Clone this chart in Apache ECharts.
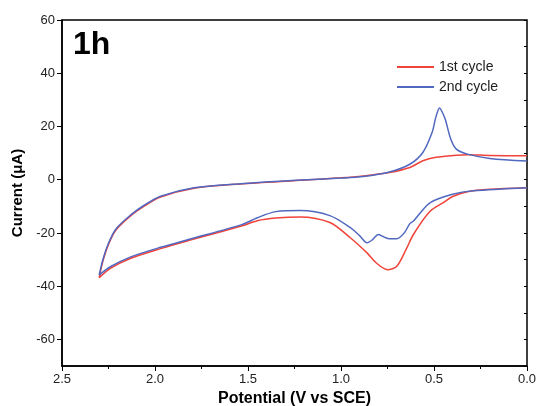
<!DOCTYPE html>
<html>
<head>
<meta charset="utf-8">
<script src="https://cdn.jsdelivr.net/npm/echarts@6/dist/echarts.min.js"></script>
<style>
  html, body { margin: 0; padding: 0; background: #fff; }
  #chart { width: 536px; height: 406px; }
</style>
</head>
<body>
<div id="chart"></div>
<script>
// potential (V vs SCE), current (uA), in scan order: 0 -> 2.3 -> 0
var cycle1 = [
  [0.00, 9.0], [0.20, 9.1], [0.32, 9.4], [0.38, 9.2], [0.49, 8.4], [0.56, 7.1],
  [0.63, 4.6], [0.74, 2.7], [0.88, 1.4], [1.00, 0.7], [1.24, -0.3], [1.54, -1.6],
  [1.79, -3.2], [1.97, -6.5], [2.06, -10.0], [2.13, -13.5], [2.21, -18.9],
  [2.25, -24.3], [2.28, -30.6], [2.30, -36.8],
  [2.24, -33.3], [2.13, -29.5], [1.97, -25.9], [1.81, -22.7], [1.53, -17.3],
  [1.45, -15.4], [1.35, -14.4], [1.22, -14.0],
  [1.06, -16.1], [0.95, -21.8], [0.86, -27.5], [0.81, -31.3], [0.75, -33.8],
  [0.70, -32.5], [0.65, -26.2], [0.61, -20.5], [0.52, -11.8], [0.45, -8.6],
  [0.40, -6.3], [0.32, -4.5], [0.20, -3.6], [0.00, -3.0]
];
var cycle2 = [
  [0.00, 7.0], [0.20, 8.0], [0.32, 9.6], [0.38, 11.5], [0.41, 15.3], [0.44, 22.8],
  [0.46, 26.0], [0.47, 26.9], [0.49, 23.5], [0.51, 17.8], [0.56, 10.2], [0.63, 5.8],
  [0.74, 2.9], [0.88, 1.2], [1.00, 0.6], [1.24, -0.2], [1.54, -1.5],
  [1.79, -3.0], [1.97, -6.2], [2.06, -9.7], [2.13, -13.2], [2.21, -18.5],
  [2.25, -23.9], [2.28, -30.0], [2.30, -35.8],
  [2.24, -32.7], [2.13, -29.0], [1.97, -25.4], [1.81, -22.3], [1.53, -16.8],
  [1.45, -14.3], [1.35, -12.0], [1.22, -11.6],
  [1.06, -13.5], [0.95, -18.0], [0.90, -21.0], [0.86, -23.7], [0.83, -22.5],
  [0.80, -20.6], [0.77, -21.5], [0.74, -22.2], [0.70, -22.2], [0.66, -20.0],
  [0.63, -16.5], [0.61, -15.5], [0.58, -13.0], [0.52, -8.6], [0.40, -5.5],
  [0.29, -4.2], [0.00, -3.0]
];
var seriesNames = ['1st cycle', '2nd cycle'];
var seriesColors = ['#f0433a', '#5068c0'];
var yTicks = [-60, -40, -20, 0, 20, 40, 60];

var myChart = echarts.init(document.getElementById('chart'));
var font = 'Liberation Sans, Arial, sans-serif';
var option = {
  animation: false,
  title: {
    text: '1h',
    left: 68,
    top: 24,
    textStyle: { fontSize: 32, fontWeight: 'bold', color: '#000', fontFamily: font }
  },
  legend: {
    orient: 'vertical',
    left: 391,
    top: 55,
    itemWidth: 37,
    itemHeight: 14,
    itemGap: 6,
    data: seriesNames,
    itemStyle: { color: 'transparent', borderWidth: 0 },
    textStyle: { fontSize: 14, color: '#222', fontFamily: font }
  },
  grid: {
    left: 62, right: 9, top: 20, bottom: 40,
    outerBoundsMode: 'none',
    show: true, borderColor: '#000', borderWidth: 1.5
  },
  xAxis: {
    type: 'value',
    inverse: true,
    min: 0, max: 2.5, interval: 0.5,
    name: 'Potential (V vs SCE)',
    nameLocation: 'middle',
    nameGap: 24,
    nameTextStyle: { fontSize: 16, fontWeight: 'bold', color: '#000', fontFamily: font },
    axisLine: { show: true, onZero: false, lineStyle: { color: '#000', width: 1.5 } },
    axisTick: { show: true, inside: false, length: 5, lineStyle: { color: '#000' } },
    minorTick: { show: true, splitNumber: 2, length: 3, lineStyle: { color: '#000' } },
    splitLine: { show: false },
    axisLabel: {
      margin: 7, fontSize: 13, color: '#222', fontFamily: font,
      formatter: function (v) { return v.toFixed(1) }
    }
  },
  yAxis: [
    {
      type: 'value',
      min: -70, max: 60,
      name: 'Current (\u03bcA)',
      nameLocation: 'middle',
      nameGap: 34,
      nameTextStyle: { fontSize: 15, fontWeight: 'bold', color: '#000', fontFamily: font },
      axisLine: { show: true, onZero: false, lineStyle: { color: '#000', width: 1.5 } },
      axisTick: { show: true, inside: false, length: 5, customValues: yTicks, lineStyle: { color: '#000' } },
      splitLine: { show: false },
      axisLabel: {
        margin: 7, fontSize: 13, color: '#222', fontFamily: font,
        customValues: yTicks
      }
    },
    {
      // minor ticks every 10
      type: 'value',
      position: 'left',
      min: -70, max: 60, interval: 10,
      axisLine: { show: false },
      axisTick: { show: true, inside: false, length: 3, lineStyle: { color: '#000' } },
      axisLabel: { show: false },
      splitLine: { show: false }
    }
  ],
  series: [
    {
      name: seriesNames[0],
      type: 'line',
      data: cycle1,
      symbol: 'none',
      smooth: 0.3,
      lineStyle: { color: seriesColors[0], width: 1.5 },
      itemStyle: { color: seriesColors[0] }
    },
    {
      name: seriesNames[1],
      type: 'line',
      data: cycle2,
      symbol: 'none',
      smooth: 0.3,
      lineStyle: { color: seriesColors[1], width: 1.5 },
      itemStyle: { color: seriesColors[1] }
    }
  ]
};
myChart.setOption(option);
</script>
</body>
</html>
